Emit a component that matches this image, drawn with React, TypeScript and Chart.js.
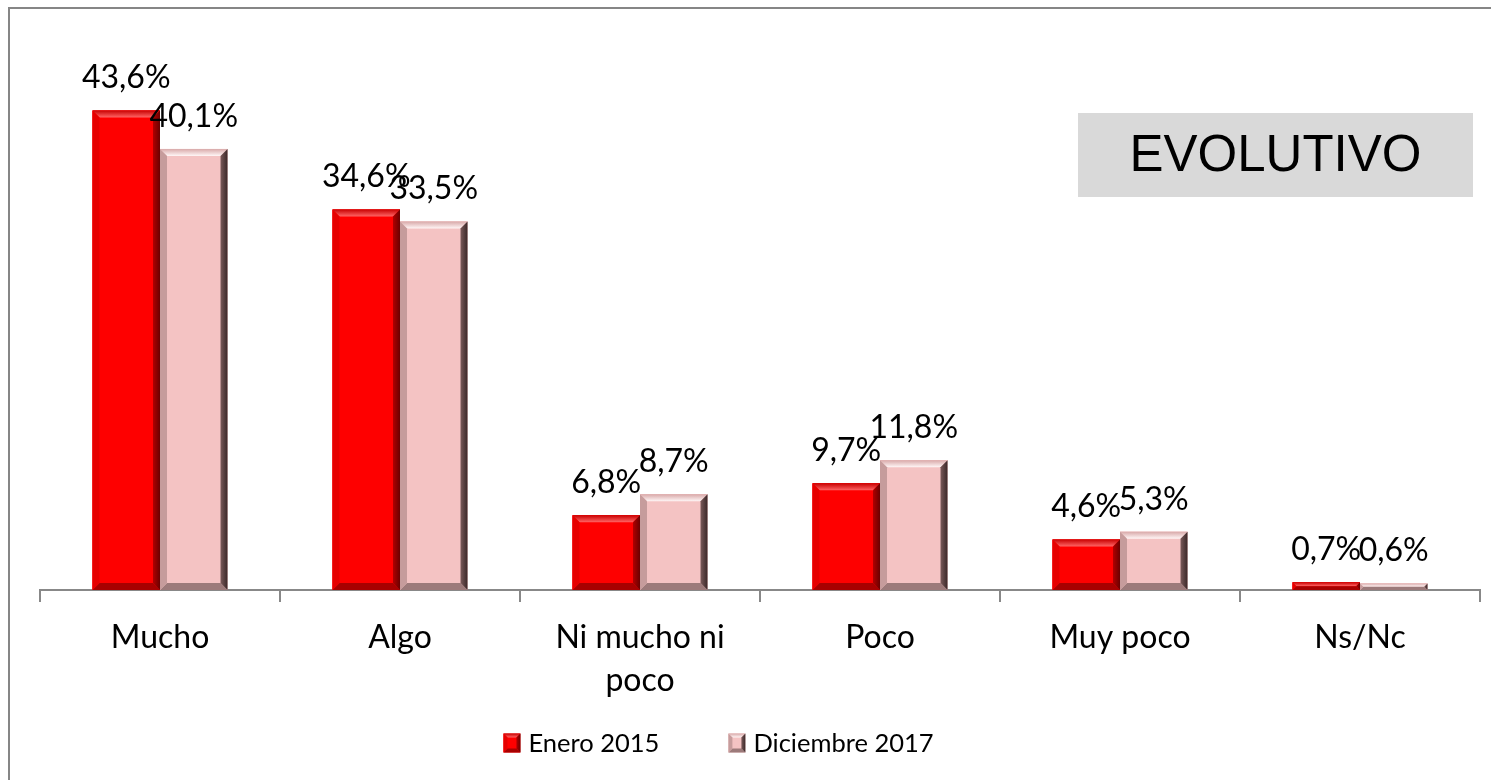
import React, { useEffect, useRef } from "react";
import { Chart, registerables } from "chart.js";

Chart.register(...registerables);

const categories: (string | string[])[] = ["Mucho", "Algo", ["Ni mucho ni", "poco"], "Poco", "Muy poco", "Ns/Nc"];
const seriesNames = ["Enero 2015", "Diciembre 2017"];
const enero2015 = [43.6, 34.6, 6.8, 9.7, 4.6, 0.7];
const diciembre2017 = [40.1, 33.5, 8.7, 11.8, 5.3, 0.6];
const boxTitle = "EVOLUTIVO";

const palettes = [
  { face: "#fe0000", topA: "#c80000", topB: "#ff6464", left: "#e60000", rightA: "#b00000", rightB: "#6a0000", bottom: "#a80000", legend: "#e00000", legendBorder: "#900000" },
  { face: "#f4c3c3", topA: "#d8a8a8", topB: "#fff6f6", left: "#c69c9c", rightA: "#7a5a5a", rightB: "#3a2828", bottom: "#9c7a7a", legend: "#e8b4b4", legendBorder: "#6a4a4a" },
];

const fmt = (v: number) => v.toFixed(1).replace(".", ",") + "%";

function poly(ctx: CanvasRenderingContext2D, pts: number[][], fill: string | CanvasGradient) {
  ctx.beginPath();
  ctx.moveTo(pts[0][0], pts[0][1]);
  for (let i = 1; i < pts.length; i++) ctx.lineTo(pts[i][0], pts[i][1]);
  ctx.closePath();
  ctx.fillStyle = fill;
  ctx.fill();
}

function drawBevelBox(ctx: CanvasRenderingContext2D, x0: number, yT: number, x1: number, yB: number, p: any, maxB: number) {
  const width = x1 - x0;
  const h = yB - yT;
  const b = Math.min(maxB, width / 2, h / 2);
  ctx.fillStyle = p.face;
  ctx.fillRect(x0, yT, width, h);
  const gt = ctx.createLinearGradient(0, yT, 0, yT + b);
  gt.addColorStop(0, p.topA);
  gt.addColorStop(1, p.topB);
  poly(ctx, [[x0, yT], [x1, yT], [x1 - b, yT + b], [x0 + b, yT + b]], gt);
  poly(ctx, [[x0, yB], [x1, yB], [x1 - b, yB - b], [x0 + b, yB - b]], p.bottom);
  poly(ctx, [[x0, yT], [x0 + b, yT + b], [x0 + b, yB - b], [x0, yB]], p.left);
  const gr = ctx.createLinearGradient(x1 - b, 0, x1, 0);
  gr.addColorStop(0, p.rightA);
  gr.addColorStop(1, p.rightB);
  poly(ctx, [[x1, yT], [x1 - b, yT + b], [x1 - b, yB - b], [x1, yB]], gr);
}

const framePlugin = {
  id: "frame",
  beforeDraw(chart: any) {
    const ctx = chart.ctx as CanvasRenderingContext2D;
    ctx.save();
    ctx.fillStyle = "#ffffff";
    ctx.fillRect(0, 0, chart.width, chart.height);
    ctx.strokeStyle = "#868686";
    ctx.lineWidth = 2;
    ctx.strokeRect(9, 8, chart.width + 20, chart.height + 20);
    ctx.restore();
  },
};

const bevelPlugin = {
  id: "bevel",
  afterDatasetsDraw(chart: any) {
    const ctx = chart.ctx as CanvasRenderingContext2D;
    ctx.save();
    chart.data.datasets.forEach((ds: any, di: number) => {
      const meta = chart.getDatasetMeta(di);
      const p = palettes[di];
      meta.data.forEach((el: any, i: number) => {
        const { x, y, base, width } = el.getProps(["x", "y", "base", "width"], true);
        drawBevelBox(ctx, x - width / 2, y, x + width / 2, base, p, 7);
        ctx.fillStyle = "#000000";
        ctx.font = "32px Lato";
        ctx.textAlign = "center";
        ctx.textBaseline = "alphabetic";
        ctx.fillText(fmt(ds.data[i]), x, y - 22);
      });
    });
    ctx.restore();
  },
  afterDraw(chart: any) {
    const ctx = chart.ctx as CanvasRenderingContext2D;
    const ca = chart.chartArea;
    ctx.save();
    // title box
    const bx = ca.right - 402, by = ca.top + 73, bw = 395, bh = 84;
    ctx.fillStyle = "#d9d9d9";
    ctx.fillRect(bx, by, bw, bh);
    ctx.fillStyle = "#000000";
    ctx.font = "51px 'Liberation Sans'";
    ctx.textAlign = "center";
    ctx.textBaseline = "middle";
    ctx.fillText(boxTitle, bx + bw / 2, by + bh / 2 + 2);
    // legend
    ctx.font = "25.5px Lato";
    ctx.textAlign = "left";
    ctx.textBaseline = "middle";
    const boxW = 17, boxH = 19, gapBox = 8, gapItems = 69;
    const items = chart.data.datasets.map((ds: any) => ({ text: ds.label, w: ctx.measureText(ds.label).width }));
    const total = items.reduce((s: number, it: any) => s + boxW + gapBox + it.w, 0) + gapItems * (items.length - 1);
    let cx = chart.width / 2 - 27 - total / 2;
    const cy = chart.height - 37;
    items.forEach((it: any, i: number) => {
      drawBevelBox(ctx, cx, cy - boxH / 2, cx + boxW, cy + boxH / 2, palettes[i], 4);
      ctx.fillStyle = "#000000";
      ctx.fillText(it.text, cx + boxW + gapBox, cy + 1);
      cx += boxW + gapBox + it.w + gapItems;
    });
    ctx.restore();
  },
};

export default function App() {
  const ref = useRef<HTMLCanvasElement>(null);
  useEffect(() => {
    if (!ref.current) return;
    Chart.defaults.font.family = "Lato";
    const chart = new Chart(ref.current, {
      type: "bar",
      data: {
        labels: categories,
        datasets: [
          { label: seriesNames[0], data: enero2015, backgroundColor: palettes[0].face, borderWidth: 0 },
          { label: seriesNames[1], data: diciembre2017, backgroundColor: palettes[1].face, borderWidth: 0 },
        ],
      },
      options: {
        responsive: false,
        animation: false,
        devicePixelRatio: 1,
        layout: { padding: { left: 40, right: 11, top: 40, bottom: 64 } },
        datasets: { bar: { categoryPercentage: 0.5625, barPercentage: 1 } },
        scales: {
          x: {
            grid: { display: true, drawOnChartArea: false, drawTicks: true, tickLength: 12, color: "#888888", lineWidth: 2, offset: true },
            border: { display: true, color: "#888888", width: 2 },
            ticks: { color: "#000000", font: { size: 32, lineHeight: 1.344 }, padding: 14, maxRotation: 0, autoSkip: false },
          },
          y: { display: false, min: 0, max: 50 },
        },
        plugins: {
          legend: { display: false },
          tooltip: { enabled: false },
        },
      },
      plugins: [framePlugin, bevelPlugin],
    });
    return () => chart.destroy();
  }, []);
  return (
    <div style={{ position: "fixed", left: 0, top: 0, width: 1491, height: 780 }}>
      <canvas ref={ref} width={1491} height={780} style={{ display: "block" }} />
    </div>
  );
}
